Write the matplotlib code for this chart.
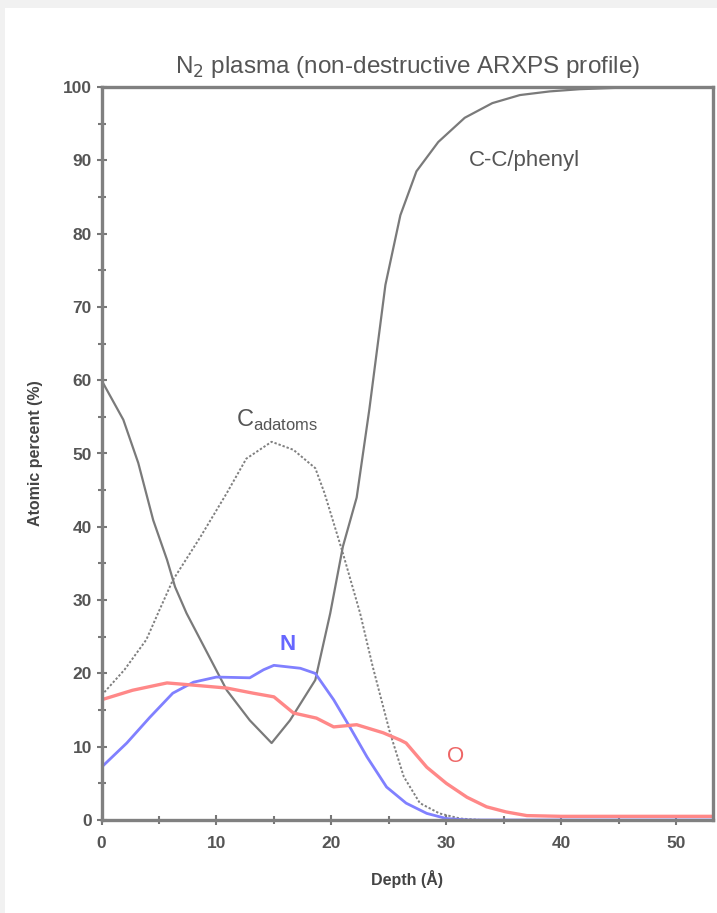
import matplotlib
matplotlib.use('Agg')
import matplotlib.pyplot as plt
from matplotlib import font_manager
from matplotlib.patches import Rectangle

# pick a narrow Arial-like face if there is one
names = set(f.name for f in font_manager.fontManager.ttflist)
if 'Liberation Sans Narrow' in names:
    fam = ['Liberation Sans Narrow', 'DejaVu Sans']
else:
    fam = ['Liberation Sans', 'DejaVu Sans']
plt.rcParams['font.family'] = fam

# C-C/phenyl
cc_x = [0, 1.9, 3.2, 4.5, 5.7, 6.4, 7.4, 9.2, 10.9, 12.9, 14.8, 16.4, 18.6, 19.9, 21.0, 22.2, 23.3,
        24.7, 26.0, 27.4, 29.3, 31.6, 34.0, 36.4, 39.0, 41.6, 45.0, 48.0, 53.5]
cc_y = [60, 54.6, 48.7, 40.9, 35.5, 31.8, 28.2, 22.8, 17.7, 13.6, 10.5, 13.6, 19.1, 28.2, 37.3, 44.0, 56.0,
        73.0, 82.5, 88.5, 92.5, 95.8, 97.8, 98.9, 99.4, 99.7, 99.9, 100, 100]
# C adatoms
ca_x = [0, 2.0, 3.9, 5.0, 6.2, 8.6, 10.9, 12.6, 14.8, 16.7, 18.6, 19.4, 21.0, 22.5, 23.6, 25.1, 26.3,
        27.7, 29.4, 31.2, 33.0, 53.5]
ca_y = [17, 20.5, 24.6, 28.5, 32.7, 38.6, 44.6, 49.3, 51.6, 50.5, 48.0, 44.6, 36.4, 28.2, 20.9, 11.9, 5.9,
        2.3, 0.9, 0.2, 0, 0]
# N
n_x = [0, 2.2, 4.2, 6.2, 8.0, 10.0, 12.9, 14.1, 15.0, 17.3, 18.6, 20.2, 21.6, 23.1, 24.8, 26.5,
       28.3, 30.0, 32.0, 53.5]
n_y = [7.2, 10.5, 14.0, 17.3, 18.8, 19.5, 19.4, 20.5, 21.1, 20.7, 20.0, 16.4, 12.7, 8.6, 4.5, 2.3,
       0.9, 0.2, 0, 0]
# O
o_x = [0, 2.7, 5.7, 8.0, 10.9, 13.2, 15.0, 16.7, 18.7, 20.2, 22.2, 24.5, 26.0, 26.5, 28.3, 30.0,
       31.8, 33.5, 35.2, 37.0, 40.0, 53.5]
o_y = [16.4, 17.7, 18.7, 18.4, 18.0, 17.3, 16.8, 14.6, 13.9, 12.7, 13.0, 11.9, 10.9, 10.5, 7.2, 5.0,
       3.1, 1.8, 1.1, 0.6, 0.5, 0.5]

fig = plt.figure(figsize=(7.17, 9.13), dpi=100, facecolor='#f1f1f1')
fig.patches.append(Rectangle((5 / 717, 0), 1, 1 - 8 / 913, transform=fig.transFigure,
                             facecolor='white', edgecolor='none', zorder=-1))
ax = fig.add_axes([101.5 / 717, 93 / 913, (713 - 101.5) / 717, (820 - 87) / 913])
ax.set_facecolor('white')

ax.plot(cc_x, cc_y, color='#7a7a7a', lw=1.6)
ax.plot(ca_x, ca_y, color='#808080', lw=1.4, ls=(0, (1.2, 1.0)))
ax.plot(n_x, n_y, color='#8080ff', lw=2.0)
ax.plot(o_x, o_y, color='#ff8888', lw=2.4)

ax.set_xlim(0, 53.2)
ax.set_ylim(0, 100)
ax.set_xticks(range(0, 51, 10))
ax.set_xticks(range(0, 54, 5), minor=True)
ax.set_yticks(range(0, 101, 10))
ax.set_yticks(range(0, 101, 5), minor=True)
ax.tick_params(which='both', direction='inout', color='#777777', width=1.5,
               labelsize=12.5, labelcolor='#555555')
ax.tick_params(which='major', length=7)
ax.tick_params(which='minor', length=6)
ax.tick_params(axis='x', pad=8)
for lab in ax.get_xticklabels() + ax.get_yticklabels():
    lab.set_fontweight('bold')
for s in ax.spines.values():
    s.set_color('#808080')
    s.set_linewidth(2.4)

ax.set_xlabel('Depth (Å)', fontsize=11.5, fontweight='bold', color='#444444', labelpad=14)
ax.set_ylabel('Atomic percent (%)', fontsize=11.5, fontweight='bold', color='#444444', labelpad=14)
ax.set_title('N$_2$ plasma (non-destructive ARXPS profile)', fontsize=17.5, color='#555555', pad=10)

ax.text(32.0, 90, 'C-C/phenyl', fontsize=16, color='#555555', va='center')
ax.text(11.7, 54.5, 'C$_{\\mathregular{adatoms}}$', fontsize=17, color='#555555', va='center')
ax.text(16.2, 24.0, 'N', fontsize=16, color='#6666ff', fontweight='bold', ha='center', va='center')
ax.text(30.8, 8.6, 'O', fontsize=16, color='#ee6666', ha='center', va='center')

fig.savefig('out.png', dpi=100, facecolor=fig.get_facecolor())
